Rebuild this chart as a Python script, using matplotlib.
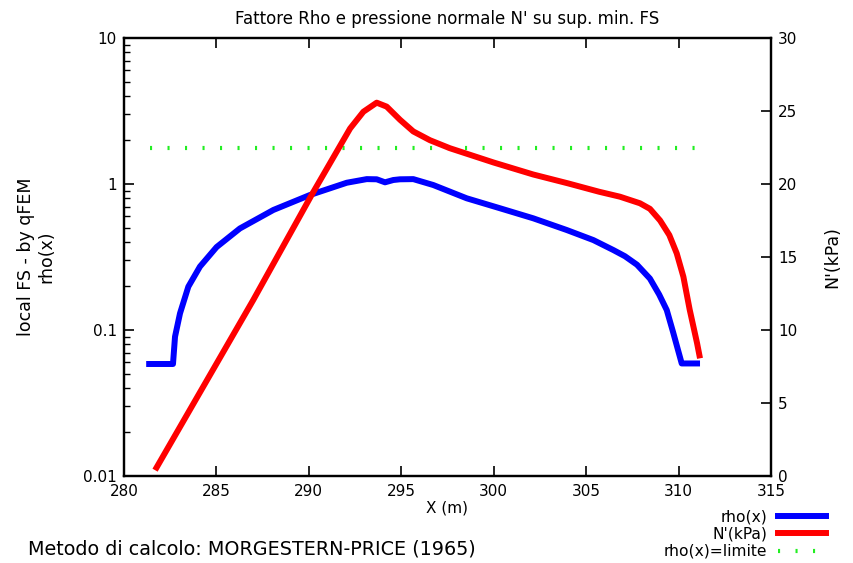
import matplotlib
matplotlib.use("Agg")
import matplotlib.pyplot as plt
from matplotlib.lines import Line2D
from matplotlib.ticker import FixedLocator, LogLocator, NullFormatter

# ---- data ----
rho_x = [281.2, 282.65, 282.76, 283.03, 283.48, 284.11, 285.01, 286.27, 288.08,
         290.06, 292.05, 293.13, 293.67, 294.12, 294.57, 294.93, 295.65, 296.73,
         298.54, 300.34, 302.14, 303.95, 305.39, 306.47, 307.1, 307.75, 308.45,
         308.95, 309.36, 309.7, 310.17, 311.16]
rho_y = [0.0585, 0.0585, 0.090, 0.130, 0.198, 0.272, 0.370, 0.496, 0.664,
         0.841, 1.02, 1.08, 1.077, 1.027, 1.065, 1.077, 1.08, 0.984,
         0.798, 0.682, 0.582, 0.484, 0.413, 0.353, 0.32, 0.28, 0.225,
         0.175, 0.137, 0.097, 0.059, 0.059]

n_x = [281.68, 286.99, 290.15, 292.23, 292.95, 293.67, 294.21, 294.93, 295.65,
       296.55, 297.63, 300.0, 302.14, 304.0, 305.7, 306.83, 307.91, 308.45,
       309.0, 309.5, 309.9, 310.26, 310.6, 311.0, 311.16]
n_y = [0.4, 12.05, 19.25, 23.8, 24.95, 25.57, 25.3, 24.4, 23.6,
       23.0, 22.45, 21.47, 20.65, 20.05, 19.47, 19.13, 18.68, 18.3,
       17.5, 16.5, 15.25, 13.65, 11.4, 9.1, 8.06]

lim_x = [281.4, 311.4]
lim_y = [1.76, 1.76]

x_ticks = [280, 285, 290, 295, 300, 305, 310, 315]
y1_ticks = [0.01, 0.1, 1, 10]
y1_labels = ["0.01", "0.1", "1", "10"]
y2_ticks = [0, 5, 10, 15, 20, 25, 30]

# ---- figure ----
W, H = 854, 563
fig = plt.figure(figsize=(W / 100, H / 100), dpi=100)
ax = fig.add_axes([124 / W, 1 - 476 / H, (771 - 124) / W, (476 - 38) / H])
ax2 = ax.twinx()

fam = "DejaVu Sans"
tick_fs = 11

ax.set_yscale("log")
ax.set_xlim(280, 315)
ax.set_ylim(0.01, 10)
ax2.set_ylim(0, 30)

GREEN = "#22ee22"
DOTS = (0, (0.5, 3.7))

# lines
ax.plot(rho_x, rho_y, color="#0000ff", lw=4.3, solid_joinstyle="round",
        solid_capstyle="butt", zorder=3)
ax2.plot(n_x, n_y, color="#ff0000", lw=4.3, solid_joinstyle="round",
         solid_capstyle="butt", zorder=3)
ax.plot(lim_x, lim_y, color=GREEN, lw=3, linestyle=DOTS,
        dash_capstyle="butt", zorder=2)

# ticks
ax.set_xticks(x_ticks)
ax.set_xticklabels([str(t) for t in x_ticks], fontfamily=fam, fontsize=tick_fs)
ax.yaxis.set_major_locator(FixedLocator(y1_ticks))
ax.set_yticklabels(y1_labels, fontfamily=fam, fontsize=tick_fs)
ax.yaxis.set_minor_locator(LogLocator(base=10, subs=range(2, 10)))
ax.yaxis.set_minor_formatter(NullFormatter())
ax2.set_yticks(y2_ticks)
ax2.set_yticklabels([str(t) for t in y2_ticks], fontfamily=fam, fontsize=tick_fs)

ax.tick_params(axis="x", which="major", direction="in", length=7, width=1.2,
               top=True, bottom=True, pad=6)
ax.tick_params(axis="y", which="major", direction="in", length=7, width=1.2,
               left=True, right=False, pad=5)
ax.tick_params(axis="y", which="minor", direction="in", length=4, width=1.0,
               left=True, right=False)
ax2.tick_params(axis="y", which="major", direction="in", length=7, width=1.2,
                right=True, left=False, pad=5)
ax2.tick_params(axis="y", which="minor", right=False, left=False)

for a in (ax, ax2):
    for s in a.spines.values():
        s.set_linewidth(1.6)
        s.set_color("black")

# labels
ax.set_title("Fattore Rho e pressione normale N' su sup. min. FS",
             fontfamily=fam, fontsize=12, pad=10)
ax.set_xlabel("X (m)", fontfamily=fam, fontsize=11, labelpad=1)
ax.set_ylabel("local FS - by qFEM\nrho(x)", fontfamily=fam,
              fontsize=12.5, labelpad=20, linespacing=1.15)
ax2.set_ylabel("N'(kPa)", fontfamily=fam, fontsize=12.5, labelpad=19)

fig.text(28 / W, 1 - 549 / H, "Metodo di calcolo: MORGESTERN-PRICE (1965)",
         fontfamily=fam, fontsize=13.75, va="center", ha="left")

handles = [Line2D([], [], color="#0000ff", lw=4.3),
           Line2D([], [], color="#ff0000", lw=4.3),
           Line2D([], [], color=GREEN, lw=3, linestyle=DOTS, dash_capstyle="butt")]
labels = ["rho(x)", "N'(kPa)", "rho(x)=limite"]
fig.legend(handles, labels, loc="upper right", bbox_to_anchor=(826 / W, 1 - 509 / H),
           frameon=False, markerfirst=False, handlelength=3.1, handletextpad=0.7,
           labelspacing=0.16, borderpad=0, borderaxespad=0,
           prop={"family": fam, "size": 11.2})

fig.savefig("out.png", dpi=100)
